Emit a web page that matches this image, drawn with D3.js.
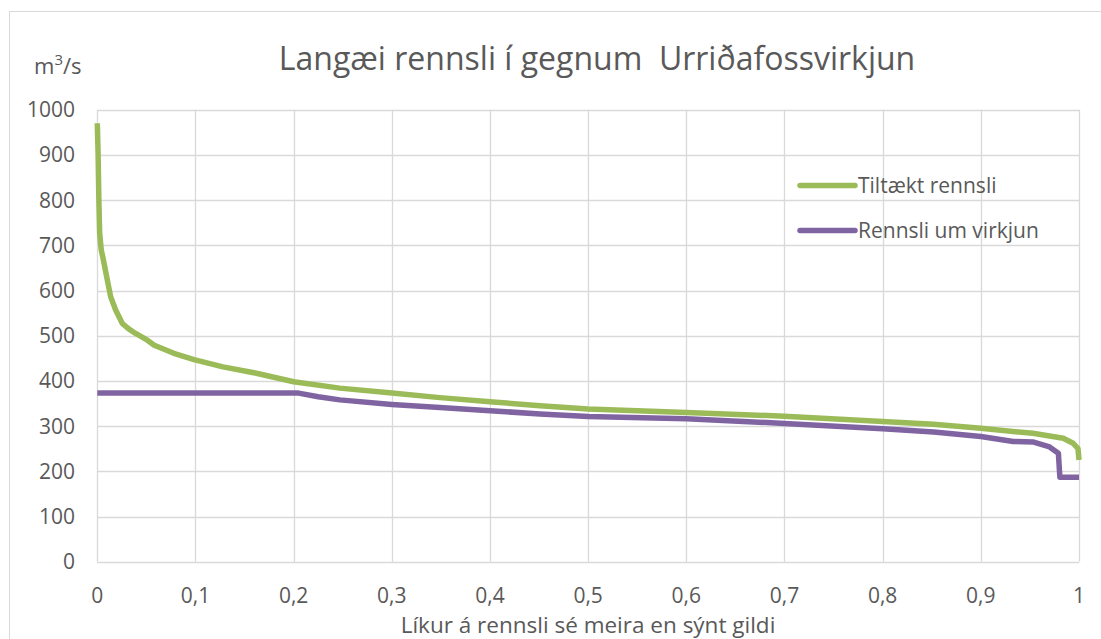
<!DOCTYPE html>
<html>
<head>
<meta charset="utf-8">
<script src="https://cdn.jsdelivr.net/npm/d3@7"></script>
<style>
  body { margin: 0; background: #fff; }
  svg { display: block; font-family: "Open Sans", "Noto Sans", sans-serif; }
</style>
</head>
<body>
<div id="chart"></div>
<script>
// exceedance probability (x) and flow in m3/s (y)
const tiltaektP = [0, 0.0008, 0.0016, 0.0024, 0.004, 0.006, 0.0096, 0.0136, 0.0187, 0.0255, 0.032, 0.039, 0.051, 0.058, 0.078, 0.0985, 0.128, 0.162, 0.2, 0.247, 0.3, 0.349, 0.4, 0.451, 0.5, 0.6, 0.7, 0.8, 0.852, 0.9, 0.953, 0.984, 0.994, 0.999, 1.0];
const tiltaektQ = [970, 903, 800, 727, 690, 670, 630, 586, 557, 527, 515, 505, 490, 479, 461, 447, 431, 417, 398, 384, 373, 363, 354, 345, 338, 330, 322, 310, 304, 295, 284, 273, 262, 250, 225];

const virkjunP = [0, 0.205, 0.225, 0.247, 0.3, 0.349, 0.4, 0.451, 0.5, 0.6, 0.7, 0.8, 0.852, 0.9, 0.933, 0.953, 0.97, 0.979, 0.9805, 1.0];
const virkjunQ = [373, 373, 365, 358, 348, 341, 334, 327, 321, 316, 306, 294, 287, 277, 266, 265, 254, 240, 187, 187];

const seriesNames = ["Tiltækt rennsli", "Rennsli um virkjun"];
const seriesColors = ["#9bbb59", "#8064a2"];
const xTicks = [0, 0.1, 0.2, 0.3, 0.4, 0.5, 0.6, 0.7, 0.8, 0.9, 1];
const yTicks = [0, 100, 200, 300, 400, 500, 600, 700, 800, 900, 1000];

const width = 1101;
const height = 639;
const grid = "#d9d9d9";
const textColor = "#595959";

const svg = d3.select("#chart").append("svg")
  .attr("width", width)
  .attr("height", height);

// outer chart frame (runs past the right and bottom edges)
svg.append("rect")
  .attr("x", 9.5).attr("y", 11.5)
  .attr("width", 1200).attr("height", 700)
  .attr("fill", "#fff")
  .attr("stroke", grid);

const x = d3.scaleLinear().domain([0, 1]).range([97.3, 1079]);
const y = d3.scaleLinear().domain([0, 1000]).range([561.7, 109.7]);

// gridlines
svg.append("g").selectAll("line").data(yTicks).join("line")
  .attr("x1", x(0)).attr("x2", x(1))
  .attr("y1", d => Math.round(y(d)) + 0.5).attr("y2", d => Math.round(y(d)) + 0.5)
  .attr("stroke", grid).attr("stroke-width", 1.3);

svg.append("g").selectAll("line").data(xTicks).join("line")
  .attr("x1", d => Math.round(x(d)) + 0.5).attr("x2", d => Math.round(x(d)) + 0.5)
  .attr("y1", y(1000)).attr("y2", y(0))
  .attr("stroke", grid).attr("stroke-width", 1.3);

// tick labels
svg.append("g").selectAll("text").data(yTicks).join("text")
  .attr("x", 75).attr("y", d => y(d) + 7.5)
  .attr("text-anchor", "end")
  .attr("font-size", 21)
  .attr("fill", textColor)
  .text(d => d);

svg.append("g").selectAll("text").data(xTicks).join("text")
  .attr("x", d => x(d)).attr("y", 603)
  .attr("text-anchor", "middle")
  .attr("font-size", 21)
  .attr("fill", textColor)
  .text(d => String(d).replace(".", ","));

// titles
svg.append("text")
  .attr("x", 597).attr("y", 70)
  .attr("text-anchor", "middle")
  .attr("font-size", 32)
  .attr("fill", textColor)
  .attr("xml:space", "preserve")
  .text("Langæi rennsli í gegnum  Urriðafossvirkjun");

const unit = svg.append("text")
  .attr("x", 34).attr("y", 74)
  .attr("font-size", 22)
  .attr("fill", textColor);
unit.append("tspan").text("m");
unit.append("tspan").attr("dy", -9).attr("font-size", 15).text("3");
unit.append("tspan").attr("dy", 9).text("/s");

svg.append("text")
  .attr("x", 588).attr("y", 633)
  .attr("text-anchor", "middle")
  .attr("font-size", 22.5)
  .attr("fill", textColor)
  .text("Líkur á rennsli sé meira en sýnt gildi");

// series lines
const line = d3.line()
  .x(d => x(d[0]))
  .y(d => y(d[1]));

const series = [
  d3.zip(tiltaektP, tiltaektQ),
  d3.zip(virkjunP, virkjunQ)
];

svg.append("g").selectAll("path").data(series).join("path")
  .attr("d", line)
  .attr("fill", "none")
  .attr("stroke", (d, i) => seriesColors[i])
  .attr("stroke-width", 5.5)
  .attr("stroke-linejoin", "round");

// legend
const legend = svg.append("g").selectAll("g").data(seriesNames).join("g")
  .attr("transform", (d, i) => `translate(800, ${185.5 + i * 45})`);

legend.append("line")
  .attr("x1", 0).attr("x2", 55)
  .attr("stroke", (d, i) => seriesColors[i])
  .attr("stroke-width", 5.5)
  .attr("stroke-linecap", "round");

legend.append("text")
  .attr("x", 58).attr("y", 7.5)
  .attr("font-size", 21)
  .attr("fill", textColor)
  .text(d => d);
</script>
</body>
</html>
